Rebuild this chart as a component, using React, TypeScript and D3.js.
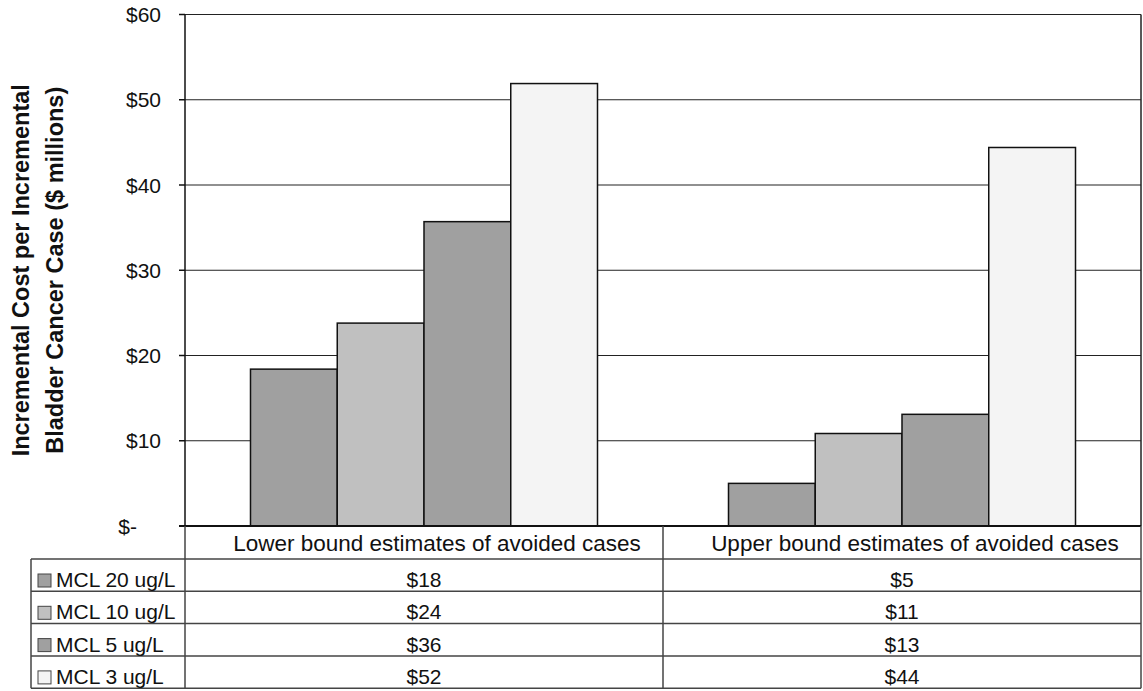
import React from "react";
import * as d3 from "d3";

const categories = ["Lower bound estimates of avoided cases", "Upper bound estimates of avoided cases"];
const seriesNames = ["MCL 20 ug/L", "MCL 10 ug/L", "MCL 5 ug/L", "MCL 3 ug/L"];
const mcl20 = [18.4, 5.0];
const mcl10 = [23.8, 10.85];
const mcl5 = [35.7, 13.1];
const mcl3 = [51.9, 44.4];
const seriesValues = [mcl20, mcl10, mcl5, mcl3];
const seriesColors = ["#a0a0a0", "#c0c0c0", "#a0a0a0", "#f4f4f4"];
const yTicks = [0, 10, 20, 30, 40, 50, 60];
const yTitle = ["Incremental Cost per Incremental", "Bladder Cancer Case ($ millions)"];

const W = 1143;
const H = 691;
const left = 185;
const right = 1141;
const top = 14.5;
const bottom = 526;
const tableLeft = 31;
const headerBottom = 559;
const rowH = 32.3;
const FONT = "Arial, 'Liberation Sans', Helvetica, sans-serif";

export default function App() {
  const x0 = d3.scaleBand<string>().domain(categories).range([left, right]).padding(0);
  const x1 = d3
    .scaleBand<string>()
    .domain(seriesNames)
    .range([0, x0.bandwidth()])
    .paddingInner(0)
    .paddingOuter(0.755);
  const y = d3.scaleLinear().domain([0, 60]).range([bottom, top]);
  const tickFmt = (v: number) => (v === 0 ? "$-" : d3.format("$.0f")(v));
  const valFmt = d3.format("$.0f");
  const tableBottom = headerBottom + rowH * seriesNames.length;

  return (
    <div style={{ position: "absolute", left: 0, top: 0 }}>
      <svg width={W} height={H} style={{ display: "block", background: "#fff" }} fontFamily={FONT}>
        {/* gridlines */}
        {yTicks.filter((t) => t > 0).map((t) => (
          <line key={"g" + t} x1={left} x2={right} y1={y(t)} y2={y(t)} stroke="#222" strokeWidth={1.2} />
        ))}
        {/* right border */}
        <line x1={right} x2={right} y1={top} y2={bottom} stroke="#222" strokeWidth={1.5} />
        {/* bars */}
        {categories.map((c, ci) => (
          <g key={c} transform={`translate(${x0(c)},0)`}>
            {seriesNames.map((s, si) => {
              const v = seriesValues[si][ci];
              return (
                <rect
                  key={s}
                  x={x1(s)}
                  y={y(v)}
                  width={x1.bandwidth()}
                  height={y(0) - y(v)}
                  fill={seriesColors[si]}
                  stroke="#111"
                  strokeWidth={1.5}
                />
              );
            })}
          </g>
        ))}
        {/* y axis */}
        <line x1={left} x2={left} y1={top} y2={bottom} stroke="#111" strokeWidth={1.5} />
        {yTicks.map((t) => (
          <g key={"t" + t}>
            <line x1={left - 6} x2={left} y1={y(t)} y2={y(t)} stroke="#111" strokeWidth={1.5} />
            <text
              x={t === 0 ? 137 : 161}
              y={y(t) + 7.5}
              textAnchor="end"
              fontSize={21}
              fill="#111"
            >
              {tickFmt(t)}
            </text>
          </g>
        ))}
        <line x1={left - 6} x2={right} y1={bottom} y2={bottom} stroke="#111" strokeWidth={2} />
        {/* y title */}
        {yTitle.map((line, i) => (
          <text
            key={line}
            transform={`translate(${29 + i * 33.5},${(top + bottom) / 2}) rotate(-90)`}
            textAnchor="middle"
            fontSize={23.5}
            fontWeight="bold"
            fill="#111"
          >
            {line}
          </text>
        ))}
        {/* data table */}
        <g stroke="#444" strokeWidth={1.5}>
          <line x1={left} x2={left} y1={bottom} y2={tableBottom} />
          <line x1={x0(categories[1])} x2={x0(categories[1])} y1={bottom} y2={tableBottom} />
          <line x1={right} x2={right} y1={bottom} y2={tableBottom} />
          <line x1={tableLeft} x2={tableLeft} y1={headerBottom} y2={tableBottom} />
          {d3.range(seriesNames.length + 1).map((i) => (
            <line
              key={"r" + i}
              x1={tableLeft}
              x2={right}
              y1={headerBottom + i * rowH}
              y2={headerBottom + i * rowH}
            />
          ))}
        </g>
        {categories.map((c) => (
          <text
            key={"c" + c}
            x={(x0(c) as number) + x0.bandwidth() / 2 + 13}
            y={551}
            textAnchor="middle"
            fontSize={22.5}
            fill="#111"
          >
            {c}
          </text>
        ))}
        {seriesNames.map((s, si) => {
          const rowTop = headerBottom + si * rowH;
          return (
            <g key={"row" + s}>
              <rect x={38} y={rowTop + 15} width={13} height={13} fill={seriesColors[si]} stroke="#444" strokeWidth={1} />
              <text x={56} y={rowTop + 28} fontSize={21} fill="#111">
                {s}
              </text>
              {categories.map((c, ci) => (
                <text
                  key={c}
                  x={(x0(c) as number) + x0.bandwidth() / 2}
                  y={rowTop + 28}
                  textAnchor="middle"
                  fontSize={21}
                  fill="#111"
                >
                  {valFmt(seriesValues[si][ci])}
                </text>
              ))}
            </g>
          );
        })}
      </svg>
    </div>
  );
}
